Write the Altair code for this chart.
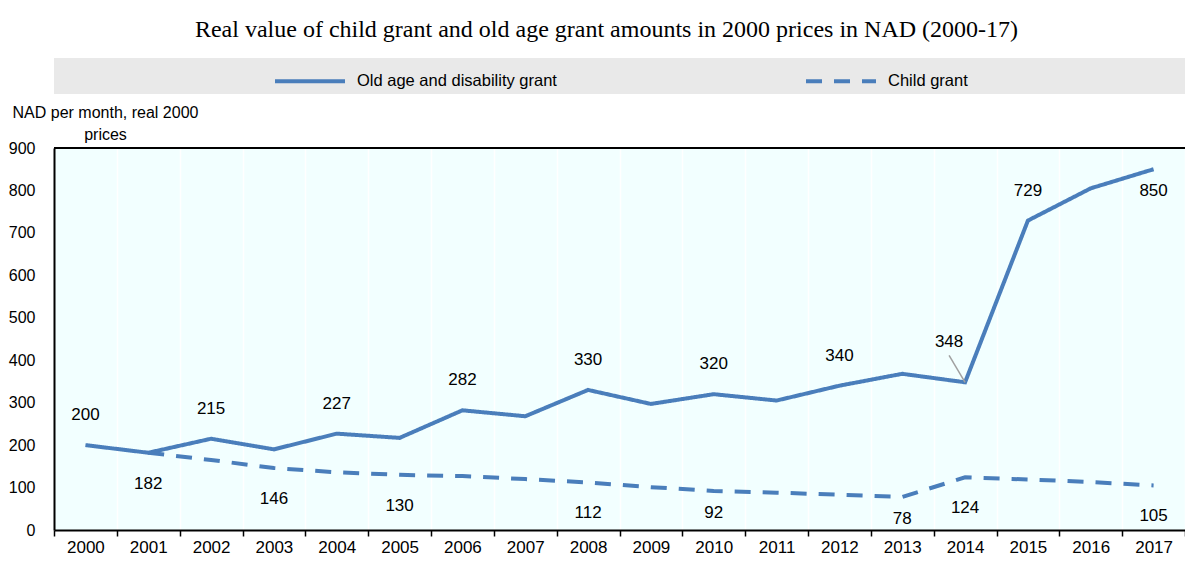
import altair as alt
import pandas as pd

# ---------------- data ----------------
years = [str(y) for y in range(2000, 2018)]
old_age = [200, 182, 215, 190, 227, 217, 282, 268, 330, 297, 320, 305, 340, 368, 348, 729, 805, 850]
child = [None, 182, 165, 146, 136, 130, 127, 120, 112, 101, 92, 88, 83, 78, 124, 119, 113, 105]

S_OLD = "Old age and disability grant"
S_CHILD = "Child grant"

label_years = ["2000", "2002", "2004", "2006", "2008", "2010", "2012", "2014", "2015", "2017",
               "2001", "2003", "2005", "2008", "2010", "2013", "2014", "2017"]
label_values = [200, 215, 227, 282, 330, 320, 340, 348, 729, 850,
                182, 146, 130, 112, 92, 78, 124, 105]
label_place = ["above", "above", "above", "above", "above", "above", "above", "leader", "above", "near",
               "below", "below", "below", "below", "near", "near", "below", "below"]

TITLE = "Real value of child grant and old age grant amounts in 2000 prices in NAD (2000-17)"
Y_TITLE = ["NAD per month, real 2000", "prices"]

# ---------------- styling ----------------
SANS = "'Liberation Sans Narrow', 'Arial Narrow', 'Liberation Sans', Arial, sans-serif"
SERIF = "'Liberation Serif', 'Times New Roman', serif"
BLUE = "#4A7EBB"
W, H = 1131, 382

rows = []
for i, y in enumerate(years):
    rows.append({"year": y, "series": S_OLD, "value": old_age[i]})
    if child[i] is not None:
        rows.append({"year": y, "series": S_CHILD, "value": child[i]})
lines_df = pd.DataFrame(rows)

labels_df = pd.DataFrame({"year": label_years, "value": label_values, "place": label_place})

x_enc = alt.X(
    "year:N",
    sort=years,
    scale=alt.Scale(type="band", domain=years, paddingInner=0, paddingOuter=0),
    axis=alt.Axis(
        title=None, tickBand="extent", grid=True, gridColor="white", gridWidth=1.5,
        domainColor="black", domainWidth=2, tickColor="black", tickSize=6, tickWidth=1.5,
        labelFontSize=17, labelFont=SANS, labelColor="black", labelAngle=0, labelPadding=3,
    ),
)
y_scale = alt.Scale(domain=[0, 900], nice=False, zero=True)
y_enc = alt.Y(
    "value:Q",
    scale=y_scale,
    axis=alt.Axis(
        values=list(range(0, 1000, 100)), title=Y_TITLE, titleAngle=0, titleX=51, titleY=-31,
        titleAlign="center", titleBaseline="alphabetic", titleFontWeight="normal",
        titleFont=SANS, titleFontSize=16, titleLineHeight=22, titleColor="black",
        domainColor="black", domainWidth=2, ticks=False, labelPadding=19,
        gridColor="white", gridWidth=1.5, labelFontSize=16, labelFont=SANS, labelColor="black",
    ),
)

band = alt.Chart(pd.DataFrame({"k": [0]})).mark_rect(color="#E9E9E9").encode(
    x=alt.value(0), x2=alt.value(W), y=alt.value(-90), y2=alt.value(-54)
)

top_rule = alt.Chart(pd.DataFrame({"k": [0]})).mark_rule(color="black", strokeWidth=2).encode(
    y=alt.datum(900, scale=y_scale)
)

legend_kw = dict(
    title=None, orient="none", direction="horizontal", legendX=219, legendY=-104,
    symbolType="stroke", symbolSize=4900, symbolStrokeWidth=4, labelFontSize=16.5,
    labelFont=SANS, labelColor="black", labelOffset=10, columnPadding=241, padding=0,
    labelLimit=400,
)

lines = alt.Chart(lines_df).mark_line(strokeWidth=4, strokeCap="butt").encode(
    x=x_enc,
    y=y_enc,
    color=alt.Color(
        "series:N",
        scale=alt.Scale(domain=[S_OLD, S_CHILD], range=[BLUE, BLUE]),
        legend=alt.Legend(**legend_kw),
    ),
    strokeDash=alt.StrokeDash(
        "series:N",
        scale=alt.Scale(domain=[S_OLD, S_CHILD], range=[[1, 0], [16, 12]]),
        legend=alt.Legend(**legend_kw),
    ),
)

offsets = {"above": (0, -30), "below": (0, 31), "near": (0, 22), "leader": (-16, -40)}
label_layers = []
for place, (dx, dy) in offsets.items():
    label_layers.append(
        alt.Chart(labels_df).transform_filter(alt.datum.place == place)
        .mark_text(font=SANS, fontSize=17, color="black", baseline="middle", dx=dx, dy=dy)
        .encode(x=alt.X("year:N", sort=years), y=alt.Y("value:Q"), text=alt.Text("value:Q"))
    )

leader = (
    alt.Chart(labels_df).transform_filter(alt.datum.place == "leader")
    .mark_rule(color="#A0A0A0", strokeWidth=1.5, x2Offset=-16, y2Offset=-27)
    .encode(x=alt.X("year:N", sort=years), x2="year:N", y="value:Q", y2="value:Q")
)

chart = alt.layer(band, top_rule, lines, leader, *label_layers).properties(
    width=W,
    height=H,
    padding={"left": 46, "top": 140, "right": 0, "bottom": 27},
    autosize=alt.AutoSizeParams(type="none"),
    title=alt.TitleParams(
        TITLE, font=SERIF, fontSize=24, fontWeight="normal", color="black",
        anchor="middle", offset=10, dx=-13, dy=8,
    ),
).configure_view(fill="#F2FFFF", stroke=None)

chart.save("out.html", embed_options={"renderer": "svg", "actions": False})
